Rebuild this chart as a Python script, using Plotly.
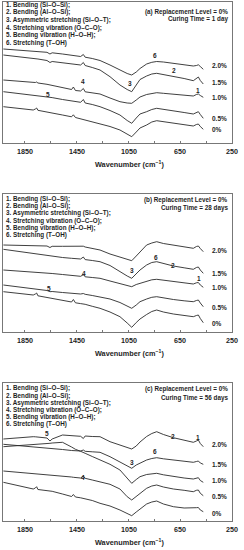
import plotly.graph_objects as go

# Shared wavenumber grid (cm^-1)
wavenumber = [2017, 1900, 1786, 1770, 1760, 1750, 1680, 1657, 1640, 1560, 1490, 1476, 1460, 1420, 1399, 1385,
              1330, 1270, 1193, 1116, 1060, 1025, 990, 961, 910, 870, 832, 780, 703, 620, 549, 525, 510, 495, 472]

series_names = ["2.0%", "1.5%", "1.0%", "0.5%", "0%"]

# Panel (a) : curing time = 1 day  (transmittance, a.u.)
a_20 = [94, 93, 92.3, 92, 92, 91.7, 90.7, 89, 90.2, 89, 87.5, 87.3, 87, 86.5, 88.5, 85.8, 84.5, 82.5, 78, 73, 69.5, 68, 71, 74.5, 79, 80.7, 81.5, 81, 79.7, 78.5, 77, 77.5, 78.2, 76.5, 73.7]
a_15 = [88, 86.5, 84.7, 84.4, 84.2, 84, 82.5, 80.5, 81.5, 80.2, 79, 78.8, 78.6, 78, 80.5, 77.5, 75.5, 73, 66.3, 58, 53.5, 51.3, 58, 63.5, 67, 69, 69.7, 68.5, 66.3, 64.5, 62.3, 64.5, 66, 62.5, 59]
a_10 = [63, 61.5, 60.3, 60.5, 61, 60, 58.7, 58, 57.7, 55.5, 53.5, 56, 52.5, 52, 54.5, 51.2, 50, 49, 45, 41.3, 40, 39.7, 43, 46, 48.5, 49.8, 50.3, 49.7, 49, 48, 47, 48.5, 49, 47.5, 45.7]
a_05 = [51.3, 49.5, 48, 47.8, 47.7, 47.5, 46.2, 45.7, 45.4, 43.5, 42, 41.7, 41.4, 40.7, 43.5, 40, 38.5, 36.3, 32.5, 28, 22.5, 19.7, 25, 29, 31.3, 33.5, 34.7, 33.8, 32.3, 30.5, 29, 30.5, 31.3, 28.5, 24.7]
a_00 = [36.3, 34.5, 33, 34, 35, 32.7, 31.2, 30.3, 30, 28, 26.2, 28.2, 25.5, 24.2, 23.7, 23.2, 21.5, 19.7, 16.5, 13, 8.5, 6.3, 11, 15, 18, 21, 22.3, 21.3, 19.7, 18.2, 17, 18.5, 19, 16.5, 13.7]

# Panel (b) : curing time = 28 days
b_20 = [87, 86.7, 86.3, 86.3, 86.3, 86.2, 86, 84.5, 85.7, 85.7, 85.5, 85.5, 85.4, 85.3, 85.8, 85, 83.5, 82, 78, 74.7, 72.5, 71.3, 76, 80.3, 87, 89, 90.3, 88.5, 87, 85.2, 83.7, 85.5, 86, 83.5, 80.3]
b_15 = [82.7, 80.5, 78.7, 78.4, 78.2, 78, 76.7, 76, 75.7, 74.5, 73.7, 73.5, 73.3, 73, 75, 72.4, 71.5, 70.3, 66.5, 60, 56, 53.7, 58.5, 62, 67, 69.5, 70.3, 68.5, 66, 64.2, 62.7, 64.5, 65, 62, 58.7]
b_10 = [62, 61, 60.3, 60.2, 60, 59.9, 59.2, 58.7, 58.5, 57.5, 56.5, 56.3, 56.1, 55.7, 57.3, 55.2, 54.5, 53.7, 51, 48.5, 46.5, 45.3, 47.5, 48.7, 51, 52.2, 52.7, 51.7, 50.3, 49, 48, 49.2, 49.5, 47, 44.7]
b_05 = [47, 45.2, 43.7, 43.5, 43.3, 43, 41.5, 40.3, 40.5, 39.5, 38.7, 38.5, 38.3, 38, 38.5, 37.7, 36.5, 35.3, 33, 29.5, 25.5, 23.7, 27, 30.3, 33, 34.7, 35.3, 34, 32.5, 31.2, 30.3, 31.5, 32, 29, 25.3]
b_00 = [40.3, 38.5, 37, 38, 39, 36.2, 34.5, 33.7, 33.4, 31.5, 30, 32.5, 29.2, 28.4, 28, 27.7, 25.7, 23.7, 20, 15.3, 9, 4.7, 9.5, 13, 17.5, 20.5, 22, 20, 18, 16.2, 15.3, 16.5, 17, 13.5, 9.3]

# Panel (c) : curing time = 56 days
c_20 = [82, 83.5, 84.3, 84.2, 84, 84, 83, 80, 82, 86, 85.5, 85.3, 85, 84.7, 82.5, 85, 84.5, 84.3, 79.3, 76, 73, 72, 75, 79, 84.5, 87.5, 89.3, 86.5, 83.3, 81, 78.7, 80, 81, 77.5, 74.3]
c_15 = [76.7, 75.5, 74.3, 74.2, 74, 73.9, 73, 72.7, 72.5, 71.5, 70.5, 70.3, 70.2, 70, 71, 69.7, 69.2, 68.7, 64.3, 59.3, 55, 52.7, 56, 57.7, 61, 62.5, 63.3, 62.2, 61, 59.7, 58.7, 59.5, 60, 58, 56.7]
c_10 = [74.3, 75.2, 76, 76.2, 76.4, 76.5, 77.4, 77.7, 78, 78.7, 74, 73, 71.7, 69.7, 68.7, 67.7, 64.5, 61, 56.7, 51, 42.5, 37.7, 41.5, 44.3, 46.5, 47.3, 47.7, 46.2, 44.3, 43, 42, 43, 43.3, 40.5, 38.7]
c_05 = [50, 48.8, 47.7, 47.6, 47.5, 47.4, 46.5, 46, 45.8, 45, 44, 43.7, 43.5, 43, 45, 42.7, 41, 39.3, 36.7, 32, 24.3, 21, 24.3, 27.7, 32.7, 35, 36, 34, 32, 30.7, 29.3, 30.7, 31, 27.7, 25.3]
c_00 = [38.7, 35, 32, 33, 34.3, 31.5, 30.5, 30, 29.7, 27, 24.5, 26.5, 24, 23.2, 22.7, 22.4, 20.5, 17.7, 15, 11, 7.5, 5.3, 9, 12, 17, 19, 20, 17, 14.3, 13, 12.7, 13.3, 13.5, 11, 9.3]

# End labels heights per panel (same order as series_names)
a_label_y = [77.3, 60.7, 46, 25, 13.3]
b_label_y = [81.3, 58.7, 44.7, 24.7, 8.7]
c_label_y = [76.7, 56.7, 41, 24.3, 7.7]

# Peak-number annotations: (label, wavenumber, height)
peak_labels = ["1", "2", "3", "4", "5", "6"]
a_peak_x = [513, 701, 1036, 1399, 1670, 843]
a_peak_y = [53, 72.3, 59.7, 62, 49, 87.3]
b_peak_x = [505, 704, 1025, 1394, 1662, 837]
b_peak_y = [53.7, 67, 61.3, 58.7, 43.7, 74.7]
c_peak_x = [510, 704, 1025, 1399, 1682, 845]
c_peak_y = [83.3, 84.3, 58.3, 43.3, 88, 70]

legend_lines = ["1. Bending (Si–O–Si);", "2. Bending (Al–O–Si);", "3. Asymmetric stretching (Si–O–T);",
                "4. Stretching vibration (O–C–O);", "5. Bending vibration (H–O–H);", "6. Stretching (T–OH)"]
panel_titles = [("(a) Replacement Level = 0%", "Curing Time = 1 day"),
                ("(b) Replacement Level = 0%", "Curing Time = 28 days"),
                ("(c) Replacement Level = 0%", "Curing Time = 56 days")]
tick_values = [1850, 1450, 1050, 650, 250]
minor_tick_values = [1650, 1250, 850, 450]
x_title = "Wavenumber (cm<sup>−1</sup>)"

W, H = 244, 550
FONT = "Liberation Sans, Arial, sans-serif"
LINE = "#2a2a2a"
TXT = "#1e1e1e"

panels = [
    dict(curves=[a_20, a_15, a_10, a_05, a_00], labels_y=a_label_y, px=a_peak_x, py=a_peak_y,
         top=2, bottom=143, leg_top=4.7, leg_gap=7.6, title_top=11.7, title_gap=7.8),
    dict(curves=[b_20, b_15, b_10, b_05, b_00], labels_y=b_label_y, px=b_peak_x, py=b_peak_y,
         top=194, bottom=332, leg_top=199, leg_gap=7.2, title_top=200, title_gap=8.3),
    dict(curves=[c_20, c_15, c_10, c_05, c_00], labels_y=c_label_y, px=c_peak_x, py=c_peak_y,
         top=383.3, bottom=521, leg_top=388.3, leg_gap=7.2, title_top=389, title_gap=8.6),
]

fig = go.Figure()
annotations = []
x_left, x_right = 3, 232

for i, p in enumerate(panels):
    ax = "" if i == 0 else str(i + 1)
    for name, ys in zip(series_names, p["curves"]):
        fig.add_trace(go.Scatter(x=wavenumber, y=ys, mode="lines", name=name,
                                 line=dict(color=LINE, width=0.9), xaxis="x" + ax, yaxis="y" + ax,
                                 showlegend=False, hoverinfo="skip"))
    for name, ly in zip(series_names, p["labels_y"]):
        annotations.append(dict(x=420, y=ly, xref="x" + ax, yref="y" + ax, text="<b>%s</b>" % name,
                                showarrow=False, xanchor="left", yanchor="middle",
                                font=dict(size=6.5, family=FONT, color=TXT)))
    for lab, xx, yy in zip(peak_labels, p["px"], p["py"]):
        annotations.append(dict(x=xx, y=yy, xref="x" + ax, yref="y" + ax, text="<b>%s</b>" % lab,
                                showarrow=False, xanchor="center", yanchor="middle",
                                font=dict(size=6.5, family=FONT, color=TXT)))
    for k, line in enumerate(legend_lines):
        yp = p["leg_top"] + k * p["leg_gap"]
        annotations.append(dict(x=4 / W, y=1 - yp / H, xref="paper", yref="paper", text="<b>%s</b>" % line,
                                showarrow=False, xanchor="left", yanchor="middle",
                                font=dict(size=6.3, family=FONT, color=TXT)))
    for k, line in enumerate(panel_titles[i]):
        yp = p["title_top"] + k * p["title_gap"]
        annotations.append(dict(x=229.5 / W, y=1 - yp / H, xref="paper", yref="paper", text="<b>%s</b>" % line,
                                showarrow=False, xanchor="right", yanchor="middle",
                                font=dict(size=6.3, family=FONT, color=TXT)))
    # tick labels
    for tv in tick_values:
        annotations.append(dict(x=tv, y=1 - (p["bottom"] + 8.5) / H, xref="x" + ax, yref="paper",
                                text="<b>%d</b>" % tv, showarrow=False, xanchor="center", yanchor="middle",
                                font=dict(size=7.2, family=FONT, color=TXT)))
    # axis title
    annotations.append(dict(x=129 / W, y=1 - (p["bottom"] + 20.5) / H,
                            xref="paper", yref="paper",
                            text="<b>%s</b>" % x_title, showarrow=False,
                            xanchor="center", yanchor="middle",
                            font=dict(size=7.3, family=FONT, color=TXT)))
    xa = dict(domain=[x_left / W, x_right / W], range=[2020, 250], showgrid=False, zeroline=False,
              showline=True, mirror=True, linecolor="#777", linewidth=1,
              tickvals=tick_values, ticks="inside", ticklen=2, tickcolor="#777", showticklabels=False,
              minor=dict(ticks="inside", tickvals=minor_tick_values, ticklen=2, tickcolor="#777"),
              anchor="y" + ax)
    ya = dict(domain=[1 - p["bottom"] / H, 1 - p["top"] / H], range=[0, p["bottom"] - p["top"]],
              showgrid=False, zeroline=False, showticklabels=False, ticks="",
              showline=True, mirror=True, linecolor="#777", linewidth=1, anchor="x" + ax)
    fig.layout["xaxis" + ax] = xa
    fig.layout["yaxis" + ax] = ya

fig.update_layout(width=W, height=H, margin=dict(l=0, r=0, t=0, b=0),
                  paper_bgcolor="white", plot_bgcolor="white", annotations=annotations,
                  font=dict(family=FONT))
fig.write_html("out.html", config={"displayModeBar": False, "staticPlot": True},
               post_script="document.body.style.margin='0px';document.body.style.overflow='hidden';")
